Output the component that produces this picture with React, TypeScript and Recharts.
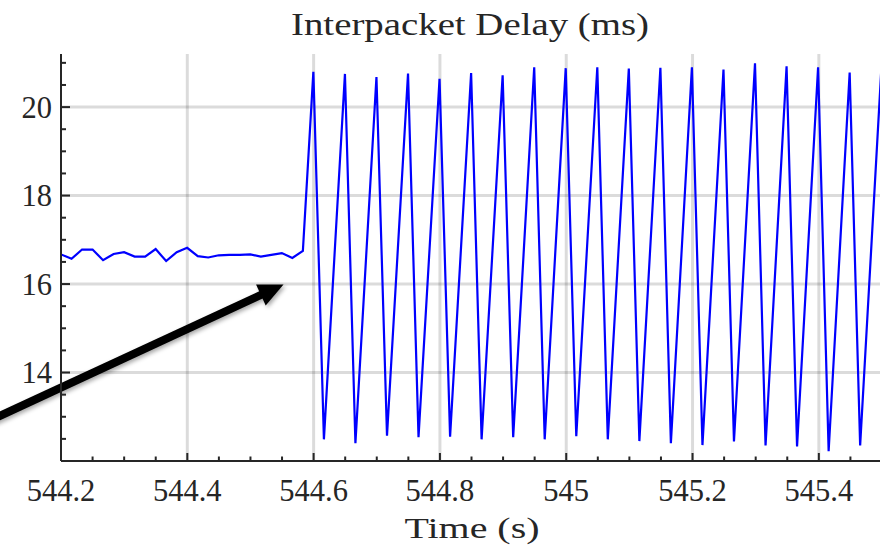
import React from "react";
import { LineChart, Line, XAxis, YAxis, ReferenceLine } from "recharts";

// sample times (s) and interpacket delay (ms)
const times = [
    544.2, 544.2167, 544.2333, 544.25, 544.2666, 544.2833, 544.2999, 544.3166, 544.3332, 544.3499,
    544.3665, 544.3832, 544.3998, 544.4165, 544.4331, 544.4498, 544.4664, 544.4831, 544.4997, 544.5164,
    544.533, 544.5497, 544.5663, 544.583,
    544.5996, 544.6163, 544.6496, 544.6662, 544.6995, 544.7162, 544.7495, 544.7661, 544.7994, 544.8161,
    544.8494, 544.866, 544.8993, 544.916, 544.9493, 544.9659, 544.9992, 545.0159, 545.0492, 545.0658,
    545.0991, 545.1158, 545.1491, 545.1657, 545.199, 545.2157, 545.249, 545.2656, 545.2989, 545.3156,
    545.3489, 545.3655, 545.3988, 545.4155, 545.4488, 545.4654, 545.4987,
];

const delays = [
    16.67, 16.57, 16.78, 16.78, 16.54, 16.68, 16.72, 16.62, 16.62, 16.79,
    16.52, 16.72, 16.82, 16.63, 16.6, 16.65, 16.66, 16.66, 16.67, 16.62,
    16.66, 16.7, 16.59, 16.75,
    20.8, 12.49, 20.75, 12.4, 20.68, 12.57, 20.76, 12.54, 20.64, 12.55,
    20.77, 12.49, 20.72, 12.54, 20.9, 12.49, 20.88, 12.56, 20.9, 12.49,
    20.87, 12.45, 20.89, 12.4, 20.9, 12.36, 20.85, 12.44, 20.99, 12.35,
    20.92, 12.33, 20.9, 12.22, 20.78, 12.35, 20.8,
];

const majorTimeTicks = [544.2, 544.4, 544.6, 544.8, 545, 545.2, 545.4];
const minorTimeTicks = [
    544.25, 544.3, 544.35, 544.45, 544.5, 544.55, 544.65, 544.7, 544.75, 544.85, 544.9, 544.95,
    545.05, 545.1, 545.15, 545.25, 545.3, 545.35, 545.45,
];
const majorDelayTicks = [14, 16, 18, 20];
const minorDelayTicks = [12.5, 13, 13.5, 14.5, 15, 15.5, 16.5, 17, 17.5, 18.5, 19, 19.5, 20.5, 21];

// annotation arrow (time, delay) from tail to head
const arrowTail = { x: 544.07, y: 12.8 };
const arrowHead = { x: 544.5524, y: 15.99 };

const data = times.map((t, i) => ({ t, delay: delays[i] }));
const timeTicks = [...majorTimeTicks, ...minorTimeTicks].sort((a, b) => a - b);
const delayTicks = [...majorDelayTicks, ...minorDelayTicks].sort((a, b) => a - b);

const AXIS = "#262626";
const textStyle = { fontFamily: '"Liberation Serif", "Times New Roman", Times, serif' };

const isMajorTime = (v: number) => majorTimeTicks.some((m) => Math.abs(m - v) < 1e-6);
const isMajorDelay = (v: number) => majorDelayTicks.some((m) => Math.abs(m - v) < 1e-6);

const BottomTick = (props: any) => {
    const { x, y, payload } = props;
    const major = isMajorTime(payload.value);
    return (
        <g>
            <line x1={x} x2={x} y1={y} y2={y - (major ? 8 : 4.5)} stroke={AXIS} strokeWidth={2} />
            {major && (
                <text x={x} y={y + 40} textAnchor="middle" fontSize={30.5} style={textStyle} fill={AXIS}>
                    {parseFloat(Number(payload.value).toFixed(1)).toString()}
                </text>
            )}
        </g>
    );
};

const TopTick = (props: any) => {
    const { x, y, payload } = props;
    const major = isMajorTime(payload.value);
    return <line x1={x} x2={x} y1={y} y2={y + (major ? 8 : 4.5)} stroke={AXIS} strokeWidth={2} />;
};

const LeftTick = (props: any) => {
    const { x, y, payload } = props;
    const major = isMajorDelay(payload.value);
    return (
        <g>
            <line x1={x} x2={x + (major ? 9 : 5)} y1={y} y2={y} stroke={AXIS} strokeWidth={2} />
            {major && (
                <text x={x - 9} y={y + 10.5} textAnchor="end" fontSize={30.5} style={textStyle} fill={AXIS}>
                    {payload.value}
                </text>
            )}
        </g>
    );
};

const RightTick = (props: any) => {
    const { x, y, payload } = props;
    const major = isMajorDelay(payload.value);
    return <line x1={x} x2={x - (major ? 9 : 5)} y1={y} y2={y} stroke={AXIS} strokeWidth={2} />;
};

const Arrow = (props: any) => {
    const { x1, y1, x2, y2 } = props;
    const dx = x2 - x1;
    const dy = y2 - y1;
    const len = Math.hypot(dx, dy);
    const ux = dx / len;
    const uy = dy / len;
    const head = 25;
    const half = 11.5;
    const bx = x2 - ux * head;
    const by = y2 - uy * head;
    const pts = [
        [x2, y2],
        [bx - uy * half, by + ux * half],
        [bx + uy * half, by - ux * half],
    ]
        .map((p) => p.join(","))
        .join(" ");
    return (
        <g filter="url(#arrowShadow)">
            <defs>
                <filter id="arrowShadow" x="-20%" y="-30%" width="140%" height="160%">
                    <feDropShadow dx="2" dy="2" stdDeviation="2" floodColor="#000" floodOpacity="0.35" />
                </filter>
            </defs>
            <line x1={x1} y1={y1} x2={bx + ux * 3} y2={by + uy * 3} stroke="#000" strokeWidth={8} />
            <polygon points={pts} fill="#000" />
        </g>
    );
};

const InterpacketDelayChart = () => {
    return (
        <div style={{ position: "absolute", left: 0, top: 0, width: 880, height: 548, overflow: "hidden", background: "#fff" }}>
            <LineChart width={882} height={548} data={data} margin={{ top: 54, right: 0, bottom: 0, left: 0 }}>
                <XAxis
                    dataKey="t"
                    type="number"
                    domain={[544.2, 545.5]}
                    ticks={timeTicks}
                    interval={0}
                    allowDataOverflow
                    height={87}
                    tickSize={0}
                    tickMargin={0}
                    tickLine={false}
                    axisLine={{ stroke: AXIS, strokeWidth: 2 }}
                    tick={<BottomTick />}
                />
                <XAxis
                    xAxisId="top"
                    orientation="top"
                    dataKey="t"
                    type="number"
                    domain={[544.2, 545.5]}
                    ticks={timeTicks}
                    interval={0}
                    allowDataOverflow
                    height={0}
                    tickSize={0}
                    tickMargin={0}
                    tickLine={false}
                    axisLine={{ stroke: AXIS, strokeWidth: 2 }}
                    tick={<TopTick />}
                />
                <YAxis
                    type="number"
                    domain={[12, 21.2]}
                    ticks={delayTicks}
                    interval={0}
                    allowDataOverflow
                    width={61}
                    tickSize={0}
                    tickMargin={0}
                    tickLine={false}
                    axisLine={{ stroke: AXIS, strokeWidth: 2 }}
                    tick={<LeftTick />}
                />
                <YAxis
                    yAxisId="right"
                    orientation="right"
                    type="number"
                    domain={[12, 21.2]}
                    ticks={delayTicks}
                    interval={0}
                    allowDataOverflow
                    width={0}
                    tickSize={0}
                    tickMargin={0}
                    tickLine={false}
                    axisLine={{ stroke: AXIS, strokeWidth: 2 }}
                    tick={<RightTick />}
                />
                {majorTimeTicks.slice(1).map((v) => (
                    <ReferenceLine key={"gx" + v} x={v} stroke="#000" strokeOpacity={0.14} strokeWidth={3} />
                ))}
                {majorDelayTicks.map((v) => (
                    <ReferenceLine key={"gy" + v} y={v} stroke="#000" strokeOpacity={0.14} strokeWidth={3} />
                ))}
                <Line
                    type="linear"
                    dataKey="delay"
                    stroke="#0000ff"
                    strokeWidth={2.2}
                    dot={false}
                    activeDot={false}
                    isAnimationActive={false}
                />
                <ReferenceLine
                    segment={[arrowTail, arrowHead]}
                    ifOverflow="visible"
                    shape={(p: any) => <Arrow {...p} />}
                />
                <text x={470} y={35} textAnchor="middle" fontSize={32} style={textStyle} fill={AXIS} textLength={358} lengthAdjust="spacingAndGlyphs">
                    Interpacket Delay (ms)
                </text>
                <text x={472} y={538} textAnchor="middle" fontSize={30} style={textStyle} fill={AXIS} textLength={135} lengthAdjust="spacingAndGlyphs">
                    Time (s)
                </text>
            </LineChart>
        </div>
    );
};

export default function App() {
    return <InterpacketDelayChart />;
}
